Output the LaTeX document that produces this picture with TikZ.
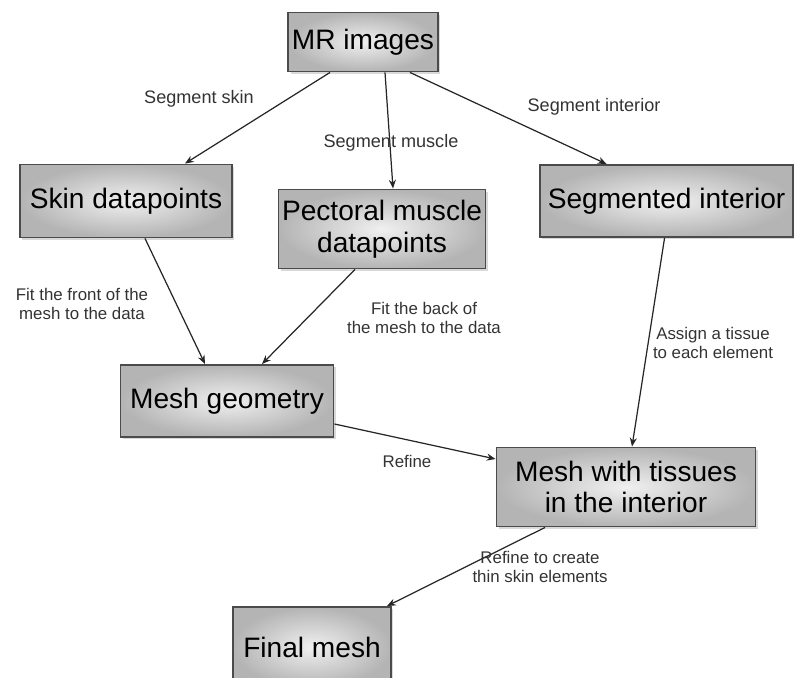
\documentclass[tikz,border=0pt]{standalone}
\usepackage{fontspec}
\setmainfont{Liberation Sans}
\usepackage{tikz}
\usetikzlibrary{arrows.meta,shadows}
\definecolor{boxedge}{RGB}{75,75,75}
\definecolor{boxout}{RGB}{180,180,180}
\definecolor{boxin}{RGB}{240,240,240}

\begin{document}
\begin{tikzpicture}[x=0.02cm, y=-0.02cm,
          stage/.style={rectangle, draw=boxedge, line width=1.1pt,
                        inner color=boxin, outer color=boxout,
                        drop shadow={shadow xshift=1.2pt, shadow yshift=-1.2pt, opacity=0.3},
                        align=center, font=\fontsize{16}{18}\selectfont, inner sep=2pt},
          flow/.style={-{Stealth[length=5pt,width=4pt]}, line width=0.7pt, black!85},
          note/.style={align=center, font=\fontsize{9.6}{10.3}\selectfont, text=black!80}
      ]
        \useasboundingbox (0,0) rectangle (794,678);
        \node[stage, minimum width=2.84cm, minimum height=1.18cm] (mr) at (363,42) {MR images};
        \node[stage, minimum width=4.24cm, minimum height=1.46cm] (skin) at (126,201) {Skin datapoints};
        \node[stage, minimum width=3.76cm, minimum height=1.58cm] (pect) at (382,229) {Pectoral muscle\\datapoints};
        \node[stage, minimum width=5.06cm, minimum height=1.44cm, anchor=east] (seg) at (794,201) {Segmented interior};
        \node[stage, minimum width=4.26cm, minimum height=1.44cm] (geom) at (227,401) {Mesh geometry};
        \node[stage, minimum width=5.18cm, minimum height=1.58cm] (tissue) at (626,487) {Mesh with tissues\\in the interior};
        \node[stage, minimum width=3.16cm, minimum height=1.6cm] (final) at (312,647) {Final mesh};

        % edges out of the MR images
        \draw[flow] ([xshift=-0.66cm]mr.south) -- ([xshift=1.18cm]skin.north);
        \draw[flow] ([xshift=0.44cm]mr.south) -- ([xshift=0.22cm]pect.north);
        \draw[flow] ([xshift=0.94cm]mr.south) -- ([xshift=-1.2cm]seg.north);
        \node[note, font=\fontsize{10.3}{11}\selectfont] (segskin) at (199,99) {Segment skin};
        \node[note, font=\fontsize{10.3}{11}\selectfont] (segmuscle) at (391,143) {Segment muscle};
        \node[note, font=\fontsize{10.3}{11}\selectfont] (seginterior) at (594,107) {Segment interior};

        % fitting the mesh
        \draw[flow] ([xshift=0.38cm]skin.south) -- ([xshift=-0.44cm]geom.north);
        \draw[flow] ([xshift=-0.54cm]pect.south) -- ([xshift=0.7cm]geom.north);
        \node[note] (fitfront) at (82,304) {Fit the front of the\\mesh to the data};
        \node[note] (fitback) at (424,318) {Fit the back of\\the mesh to the data};

        % tissues and refinement
        \draw[flow] ([xshift=-0.04cm]seg.south) -- ([xshift=0.12cm]tissue.north);
        \node[note] (assign) at (713,343) {Assign a tissue\\to each element};
        \draw[flow] ([yshift=-0.46cm]geom.east) -- ([yshift=0.56cm]tissue.west);
        \node[note] (refine) at (407,461) {Refine};
        \draw[flow] ([xshift=-1.62cm]tissue.south) -- ([xshift=1.5cm]final.north);
        \node[note] (thin) at (540,567) {Refine to create\\thin skin elements};
      \end{tikzpicture}
\end{document}
